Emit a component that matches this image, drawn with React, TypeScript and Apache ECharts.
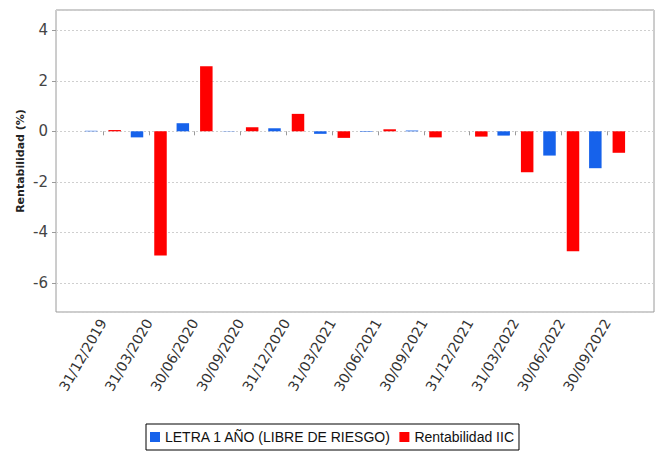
import React, { useEffect, useRef } from "react";
import * as echarts from "echarts";

const categories = [
  "31/12/2019", "31/03/2020", "30/06/2020", "30/09/2020", "31/12/2020", "31/03/2021",
  "30/06/2021", "30/09/2021", "31/12/2021", "31/03/2022", "30/06/2022", "30/09/2022",
];
const letraValues = [0.02, -0.24, 0.32, 0.01, 0.12, -0.1, -0.02, 0.03, 0, -0.17, -0.96, -1.46];
const iicValues = [0.05, -4.91, 2.57, 0.16, 0.69, -0.26, 0.08, -0.24, -0.21, -1.62, -4.75, -0.85];
const seriesNames = ["LETRA 1 AÑO (LIBRE DE RIESGO)", "Rentabilidad IIC"];
const yMin = -7.15;
const yMax = 4.8;

const BLUE = "#1662EB";
const RED = "#FF0000";
const FONT = "DejaVu Sans";

export default function App() {
  const ref = useRef<HTMLDivElement>(null);
  useEffect(() => {
    if (!ref.current) return;
    const chart = echarts.init(ref.current, undefined, { renderer: "svg" });
    chart.setOption({
      animation: false,
      backgroundColor: "#ffffff",
      grid: [
        { left: 56, right: 10, top: 10, bottom: 144, show: true, borderColor: "#9a9a9a", borderWidth: 1, backgroundColor: "#ffffff" },
        { left: 80, right: 34, top: 10, bottom: 144 },
      ],
      legend: {
        data: seriesNames,
        left: "center",
        top: 424,
        icon: "rect",
        itemWidth: 10,
        itemHeight: 10,
        itemGap: 8,
        padding: [6, 5, 6, 4],
        borderColor: "#000000",
        borderWidth: 1,
        textStyle: { fontFamily: "Liberation Sans", fontSize: 14, color: "#111" },
      },
      xAxis: [
        { type: "category", gridIndex: 0, show: false, data: categories },
        {
          type: "category",
          gridIndex: 1,
          data: categories,
          boundaryGap: true,
          axisLine: { show: false },
          axisTick: { show: true, alignWithLabel: true, length: 4, lineStyle: { color: "#9a9a9a" } },
          axisLabel: { rotate: 60, margin: 8, fontFamily: FONT, fontSize: 14, color: "#333" },
          splitLine: { show: false },
        },
      ],
      yAxis: [
        {
          type: "value",
          gridIndex: 0,
          min: yMin,
          max: yMax,
          splitNumber: 6,
          name: "Rentabilidad (%)",
          nameLocation: "middle",
          nameGap: 30,
          nameMoveOverlap: false,
          nameTextStyle: { fontFamily: FONT, fontSize: 11, fontWeight: "bold", color: "#222" },
          axisLine: { show: false },
          axisTick: { show: true, length: 4, lineStyle: { color: "#9a9a9a" } },
          axisLabel: {
            margin: 8,
            fontFamily: FONT,
            fontSize: 15,
            color: "#444",
            showMinLabel: false,
            showMaxLabel: false,
            formatter: (v: number) => (Math.abs(v % 2) < 1e-9 ? String(v) : ""),
          },
          splitLine: { show: true, lineStyle: { color: "#cfcfcf", type: [2, 2], width: 1 } },
        },
        { type: "value", gridIndex: 1, min: yMin, max: yMax, show: false, splitLine: { show: false } },
      ],
      series: [
        {
          name: seriesNames[0],
          type: "bar",
          xAxisIndex: 1,
          yAxisIndex: 1,
          data: letraValues,
          barWidth: 12.5,
          barGap: "88%",
          itemStyle: { color: BLUE },
        },
        {
          name: seriesNames[1],
          type: "bar",
          xAxisIndex: 1,
          yAxisIndex: 1,
          data: iicValues,
          barWidth: 12.5,
          barGap: "88%",
          itemStyle: { color: RED },
        },
      ],
    });
    return () => chart.dispose();
  }, []);
  return <div ref={ref} style={{ position: "fixed", left: 0, top: 0, width: 664, height: 456 }} />;
}
